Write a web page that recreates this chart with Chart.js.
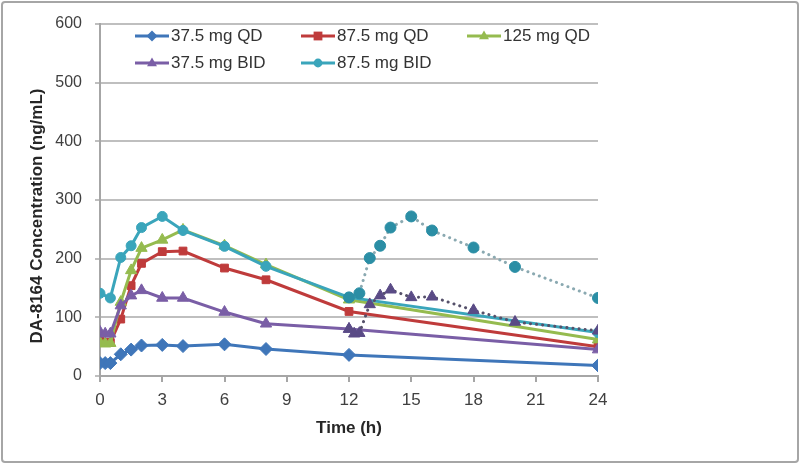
<!DOCTYPE html>
<html lang="en">
<head>
    <meta charset="UTF-8">
    <title>DA-8164 Concentration</title>
    <script src="https://cdn.jsdelivr.net/npm/chart.js"></script>
    <style>
        html, body {
            margin: 0;
            padding: 0;
            background-color: #ffffff;
        }
        .frame {
            position: absolute;
            left: 1px;
            top: 1px;
            width: 794px;
            height: 458px;
            border: 2px solid #a6a6a6;
            border-radius: 4px;
        }
        #chart {
            position: absolute;
            left: 0;
            top: 0;
        }
    </style>
</head>
<body>
    <div class="frame"></div>
    <canvas id="chart" width="800" height="464"></canvas>

    <script>
        // time points (h)
        const timeQD = [0, 0.25, 0.5, 1, 1.5, 2, 3, 4, 6, 8, 12, 24];
        const timeBID = [0, 0.25, 0.5, 1, 1.5, 2, 3, 4, 6, 8, 12, 24];
        const timeBIDHigh = [0, 0.5, 1, 1.5, 2, 3, 4, 6, 8, 12, 24];
        const timeSecondDose = [12, 12.5, 13, 13.5, 14, 15, 16, 18, 20, 24];
        const timeSecondDoseLow = [12, 12.25, 12.5, 13, 13.5, 14, 15, 16, 18, 20, 24];

        // concentrations (ng/mL)
        const qd375 = [22, 22, 22, 37, 45, 52, 53, 51, 54, 46, 36, 18];
        const qd875 = [60, 57, 57, 97, 154, 192, 212, 213, 184, 164, 110, 50];
        const qd125 = [57, 55, 56, 126, 180, 218, 232, 249, 222, 190, 130, 62];
        const bid375 = [75, 72, 72, 120, 137, 146, 133, 133, 109, 89, 80, 45];
        const bid875 = [141, 133, 202, 222, 253, 272, 248, 221, 187, 134, 74];
        const bid875Second = [134, 141, 201, 222, 253, 272, 248, 219, 186, 133];
        const bid375Second = [80, 72, 73, 122, 137, 147, 134, 135, 112, 92, 77];

        const labels = ['37.5 mg QD', '87.5 mg QD', '125 mg QD', '37.5 mg BID', '87.5 mg BID'];
        const yTicks = [0, 100, 200, 300, 400, 500, 600];
        const xTicks = [0, 3, 6, 9, 12, 15, 18, 21, 24];

        const FONT = '"Liberation Sans", Arial, sans-serif';
        const pts = (xs, ys) => xs.map((x, i) => ({ x: x, y: ys[i] }));

        function lineSet(label, xs, ys, color, style, radius, order) {
            return {
                label: label,
                data: pts(xs, ys),
                borderColor: color,
                backgroundColor: color,
                borderWidth: 3,
                pointStyle: style,
                pointRadius: radius,
                pointBorderWidth: 1,
                tension: 0,
                order: order
            };
        }

        const datasets = [
            lineSet(labels[0], timeQD, qd375, '#3f76b9', 'rectRot', 6.5, 6),
            lineSet(labels[1], timeQD, qd875, '#bf3b3b', 'rect', 5.5, 5),
            lineSet(labels[2], timeQD, qd125, '#95bb4f', 'triangle', 6.5, 4),
            lineSet(labels[3], timeBID, bid375, '#7a5ea6', 'triangle', 6.5, 3),
            lineSet(labels[4], timeBIDHigh, bid875, '#3aa5bb', 'circle', 5, 2),
            Object.assign(lineSet('87.5 mg BID (2nd dose)', timeSecondDose, bid875Second, '#8aa9b1', 'circle', 5.5, 1), {
                backgroundColor: '#2b8ea5', pointBorderColor: '#2b8ea5', borderDash: [0.1, 6], borderCapStyle: 'round'
            }),
            Object.assign(lineSet('37.5 mg BID (2nd dose)', timeSecondDoseLow, bid375Second, '#55506a', 'triangle', 6.5, 0), {
                backgroundColor: '#5a4b86', pointBorderColor: '#5a4b86', borderDash: [0.1, 6], borderCapStyle: 'round'
            })
        ];

        // legend drawn inside the plot, in three columns like the original
        const legendItems = [
            { text: labels[0], color: '#3f76b9', style: 'diamond', col: 0, row: 0 },
            { text: labels[1], color: '#bf3b3b', style: 'square', col: 1, row: 0 },
            { text: labels[2], color: '#95bb4f', style: 'triangle', col: 2, row: 0 },
            { text: labels[3], color: '#7a5ea6', style: 'triangle', col: 0, row: 1 },
            { text: labels[4], color: '#3aa5bb', style: 'circle', col: 1, row: 1 }
        ];

        function marker(ctx, style, x, y, r) {
            ctx.beginPath();
            if (style === 'diamond') {
                ctx.moveTo(x, y - r); ctx.lineTo(x + r, y); ctx.lineTo(x, y + r); ctx.lineTo(x - r, y);
            } else if (style === 'square') {
                ctx.rect(x - r * 0.8, y - r * 0.8, r * 1.6, r * 1.6);
            } else if (style === 'triangle') {
                ctx.moveTo(x, y - r); ctx.lineTo(x + r * 0.9, y + r * 0.6); ctx.lineTo(x - r * 0.9, y + r * 0.6);
            } else {
                ctx.arc(x, y, r * 0.8, 0, Math.PI * 2);
            }
            ctx.closePath();
            ctx.fill();
        }

        const customLegend = {
            id: 'customLegend',
            afterDraw(chart) {
                const ctx = chart.ctx;
                const colX = [135, 301, 467];
                const rowY = [36, 63];
                ctx.save();
                ctx.font = '17px ' + FONT;
                ctx.textBaseline = 'middle';
                legendItems.forEach(item => {
                    const x = colX[item.col];
                    const y = rowY[item.row];
                    ctx.strokeStyle = item.color;
                    ctx.fillStyle = item.color;
                    ctx.lineWidth = 3;
                    ctx.beginPath();
                    ctx.moveTo(x, y);
                    ctx.lineTo(x + 34, y);
                    ctx.stroke();
                    marker(ctx, item.style, x + 17, y, 5.5);
                    ctx.fillStyle = '#333333';
                    ctx.fillText(item.text, x + 36, y);
                });

                // y axis title, set lower than centre as in the original
                ctx.font = 'bold 17px ' + FONT;
                ctx.fillStyle = '#262626';
                ctx.textAlign = 'center';
                ctx.translate(37, 216);
                ctx.rotate(-Math.PI / 2);
                ctx.fillText('DA-8164 Concentration (ng/mL)', 0, 0);
                ctx.restore();
            }
        };

        new Chart(document.getElementById('chart').getContext('2d'), {
            type: 'line',
            data: { datasets: datasets },
            options: {
                responsive: false,
                animation: false,
                layout: { padding: { left: 0, right: 202, top: 24, bottom: 0 } },
                plugins: {
                    legend: { display: false },
                    tooltip: { enabled: false }
                },
                scales: {
                    x: {
                        type: 'linear',
                        min: 0,
                        max: 24,
                        afterFit: scale => { scale.height = 88; },
                        afterBuildTicks: scale => { scale.ticks = xTicks.map(v => ({ value: v })); },
                        border: { color: '#a6a6a6', width: 2 },
                        grid: { drawOnChartArea: false, drawTicks: true, tickLength: 6, color: '#a6a6a6', lineWidth: 2 },
                        ticks: { padding: 8, color: '#404040', font: { size: 17, family: FONT } },
                        title: {
                            display: true,
                            text: 'Time (h)',
                            color: '#262626',
                            padding: { top: 0, bottom: 25 },
                            font: { size: 17, weight: 'bold', family: FONT }
                        }
                    },
                    y: {
                        min: 0,
                        max: 600,
                        afterFit: scale => { scale.width = 100; },
                        afterBuildTicks: scale => { scale.ticks = yTicks.map(v => ({ value: v })); },
                        border: { color: '#a6a6a6', width: 2 },
                        grid: { color: '#bfbfbf', lineWidth: 2, drawTicks: true, tickLength: 5 },
                        ticks: { padding: 13, color: '#404040', font: { size: 16, family: FONT } }
                    }
                }
            },
            plugins: [customLegend]
        });
    </script>
</body>
</html>
